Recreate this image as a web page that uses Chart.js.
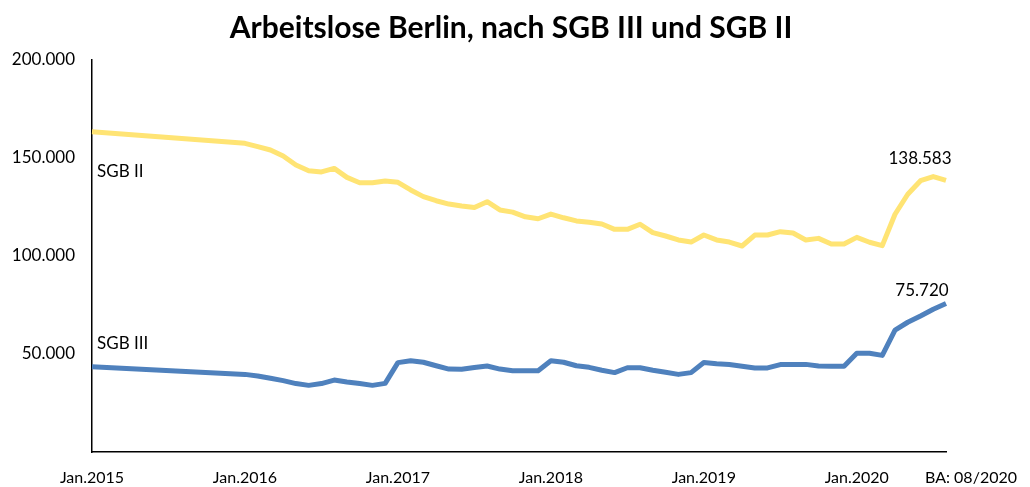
<!DOCTYPE html>
<html>
<head>
<meta charset="utf-8">
<script src="https://cdn.jsdelivr.net/npm/chart.js@4.4.1/dist/chart.umd.min.js"></script>
<style>
  html, body { margin: 0; padding: 0; background: #ffffff; }
  #wrap { width: 1030px; height: 487px; position: relative; }
</style>
</head>
<body>
<div id="wrap"><canvas id="c" width="1030" height="487"></canvas></div>
<script>
// ---- Data ----
const chartTitle = 'Arbeitslose Berlin, nach SGB III und SGB II';
const sourceNote = 'BA: 08/2020';

const months = [
  '2015-01','2015-02','2015-03','2015-04','2015-05','2015-06','2015-07','2015-08','2015-09','2015-10','2015-11','2015-12',
  '2016-01','2016-02','2016-03','2016-04','2016-05','2016-06','2016-07','2016-08','2016-09','2016-10','2016-11','2016-12',
  '2017-01','2017-02','2017-03','2017-04','2017-05','2017-06','2017-07','2017-08','2017-09','2017-10','2017-11','2017-12',
  '2018-01','2018-02','2018-03','2018-04','2018-05','2018-06','2018-07','2018-08','2018-09','2018-10','2018-11','2018-12',
  '2019-01','2019-02','2019-03','2019-04','2019-05','2019-06','2019-07','2019-08','2019-09','2019-10','2019-11','2019-12',
  '2020-01','2020-02','2020-03','2020-04','2020-05','2020-06','2020-07','2020-08'
];

const sgb2Label = 'SGB II';
const sgb2 = [
  163400, null, null, null, null, null, null, null, null, null, null, null,
  157500, 155800, 154100, 151000, 146400, 143500, 142900, 144700, 140100, 137400, 137400, 138300,
  137600, 133700, 130300, 128200, 126500, 125500, 124700, 127700, 123500, 122400, 120000, 119000,
  121400, 119500, 117900, 117200, 116300, 113600, 113600, 116200, 111900, 110200, 108200, 107100,
  110700, 108200, 107100, 105100, 110700, 110700, 112400, 111700, 108200, 109000, 106100, 106100,
  109500, 107000, 105300, 121300, 131500, 138400, 140500, 138583
];

const sgb3Label = 'SGB III';
const sgb3 = [
  43500, null, null, null, null, null, null, null, null, null, null, null,
  39600, 38800, 37600, 36400, 34900, 34000, 34900, 36700, 35700, 34900, 34000, 35000,
  45600, 46600, 45800, 44000, 42300, 42200, 43100, 43900, 42300, 41500, 41500, 41500,
  46600, 45800, 44000, 43200, 41700, 40500, 43000, 43000, 41700, 40700, 39600, 40500,
  45700, 45000, 44600, 43700, 42900, 42900, 44600, 44700, 44700, 43900, 43700, 43700,
  50400, 50400, 49300, 62200, 66200, 69400, 72800, 75720
];

const yMin = 0, yMax = 200000, yStep = 50000;

// ---- Helpers ----
function fmtDE(v) {
  return String(Math.round(v)).replace(/\B(?=(\d{3})+(?!\d))/g, '.');
}

const FONT = 'Lato, "Open Sans", sans-serif';

const annotations = {
  id: 'annotations',
  afterDatasetsDraw(chart) {
    const ctx = chart.ctx;
    const xs = chart.scales.x, ys = chart.scales.y;
    ctx.save();
    ctx.fillStyle = '#000';
    // Title
    ctx.font = 'bold 30px ' + FONT;
    ctx.textAlign = 'center';
    ctx.textBaseline = 'middle';
    ctx.fillText(chartTitle, 511, 28);

    // Series names near the start
    ctx.font = '17px ' + FONT;
    ctx.textAlign = 'left';
    const x0 = xs.getPixelForValue(0);
    ctx.fillText(sgb2Label, x0 + 5, ys.getPixelForValue(sgb2[0]) + 40);
    ctx.fillText(sgb3Label, x0 + 5, ys.getPixelForValue(sgb3[0]) - 23);

    // Last values
    const li = months.length - 1;
    const xl = xs.getPixelForValue(li);
    ctx.textAlign = 'center';
    ctx.fillText(fmtDE(sgb2[li]), xl - 26, ys.getPixelForValue(sgb2[li]) - 22);
    ctx.fillText(fmtDE(sgb3[li]), xl - 24, ys.getPixelForValue(sgb3[li]) - 13);

    // Source note
    ctx.font = '16px ' + FONT;
    ctx.textAlign = 'right';
    ctx.fillText(sourceNote, chart.width - 13, 478);
    ctx.restore();
  }
};

new Chart(document.getElementById('c'), {
  type: 'line',
  data: {
    labels: months,
    datasets: [
      {
        label: sgb2Label,
        data: sgb2,
        borderColor: '#FFE474',
        borderWidth: 5,
        pointRadius: 0,
        tension: 0,
        spanGaps: true,
        borderJoinStyle: 'round',
        borderCapStyle: 'butt'
      },
      {
        label: sgb3Label,
        data: sgb3,
        borderColor: '#4F81BD',
        borderWidth: 5,
        pointRadius: 0,
        tension: 0,
        spanGaps: true,
        borderJoinStyle: 'round',
        borderCapStyle: 'butt'
      }
    ]
  },
  options: {
    responsive: false,
    animation: false,
    devicePixelRatio: 1,
    layout: { padding: { top: 60, right: 84, left: 0, bottom: 0 } },
    plugins: {
      legend: { display: false },
      title: { display: false },
      tooltip: { enabled: false }
    },
    scales: {
      x: {
        type: 'category',
        offset: false,
        grid: { display: false, drawTicks: false },
        border: { display: true, color: '#000', width: 1.5 },
        ticks: {
          autoSkip: false,
          maxRotation: 0,
          minRotation: 0,
          padding: 16,
          color: '#000',
          font: { family: FONT, size: 16 },
          callback: function (val, idx) {
            const m = months[idx];
            return m.endsWith('-01') ? 'Jan.' + m.slice(0, 4) : '';
          }
        },
        afterFit(scale) { scale.height = 35; }
      },
      y: {
        min: yMin,
        max: yMax,
        grid: { display: false, drawTicks: false },
        border: { display: true, color: '#000', width: 1.5 },
        ticks: {
          stepSize: yStep,
          padding: 17,
          color: '#000',
          font: { family: FONT, size: 17 },
          callback: function (v) { return v === 0 ? '' : fmtDE(v); }
        },
        afterFit(scale) { scale.width = 92; }
      }
    }
  },
  plugins: [annotations]
});
</script>
</body>
</html>
